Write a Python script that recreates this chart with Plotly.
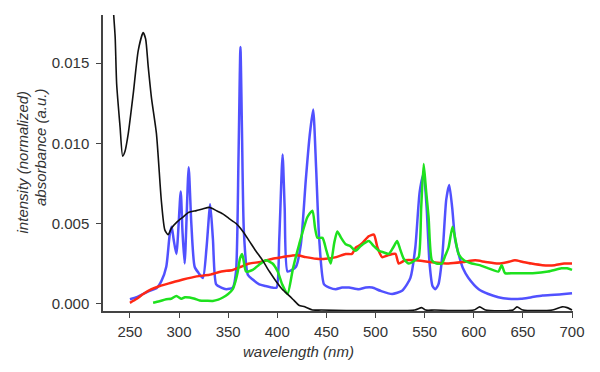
import plotly.graph_objects as go

# Absorbance (black)
abs_nm = [231, 233.5, 235, 236.5, 240, 242.6, 245, 248.3, 253.4, 258.5, 263.5, 266, 268.6, 272, 277, 282,
          285.5, 288.9, 292.2, 298, 304, 310, 317.6, 324, 331, 338, 344.5, 351, 358, 365, 371.6, 378, 385,
          392, 398.7, 405, 412, 417, 422, 428, 435.8, 445, 470, 500, 540, 547, 551, 560, 600, 606, 612,
          640, 644, 650, 680, 690, 695, 700]
abs_val = [0.021, 0.018, 0.0166, 0.0137, 0.0110, 0.0092, 0.0095, 0.0106, 0.0131, 0.0158, 0.0169, 0.0165,
           0.0148, 0.0128, 0.0106, 0.0064, 0.0046, 0.0043, 0.0047, 0.0051, 0.0054, 0.0057, 0.0058, 0.0059,
           0.0060, 0.0058, 0.0056, 0.0053, 0.0050, 0.0045, 0.0039, 0.0033, 0.0027, 0.0020, 0.0014, 0.0009,
           0.0005, 0.0002, -0.0001, -0.0002, -0.0004, -0.0004, -0.00043, -0.00043, -0.0004, -0.00025,
           -0.0004, -0.0004, -0.0004, -0.0002, -0.0004, -0.0004, -0.0002, -0.0004, -0.0004, -0.0002,
           -0.00025, -0.0004]

# Blue emission
blue_nm = [250, 257, 263.5, 270, 277, 282, 287, 290.5, 292.5, 294.5, 297.3, 301.7, 303.5, 305.7, 309.8,
           312.5, 315.9, 320, 324.3, 328, 331.7, 334.5, 337.8, 343, 348, 354.7, 358, 360.5, 362.5, 364,
           366, 370, 375, 381.7, 388, 395, 399.3, 402, 405.4, 407.5, 410.4, 415, 419, 424, 429, 433, 436.5,
           439.5, 442.6, 447.6, 453, 459.5, 466, 473, 483, 490, 496.6, 505, 516.9, 527, 532, 535.5, 540.5,
           545, 549, 552, 555, 558, 560.8, 564, 568, 572, 575, 578, 581, 584.5, 589, 594.6, 605, 614.9,
           625, 635, 648, 658.7, 670, 682.4, 692, 700]
blue_val = [0.00027, 0.0004, 0.0006, 0.0008, 0.00096, 0.0014, 0.0023, 0.0043, 0.0048, 0.0040, 0.0031,
            0.0070, 0.0045, 0.0025, 0.0085, 0.0050, 0.0023, 0.0019, 0.0016, 0.0035, 0.0062, 0.0040,
            0.0012, 0.0010, 0.0009, 0.0010, 0.0020, 0.0090, 0.0160, 0.0110, 0.0045, 0.0018, 0.0015,
            0.0012, 0.0011, 0.0010, 0.0010, 0.0040, 0.0093, 0.0060, 0.0020, 0.0021, 0.0023, 0.0037,
            0.0077, 0.0105, 0.0121, 0.0085, 0.0041, 0.0012, 0.0010, 0.0009, 0.0010, 0.0010, 0.0009,
            0.0010, 0.0010, 0.0008, 0.0006, 0.0008, 0.0012, 0.0016, 0.0035, 0.0070, 0.0081, 0.0060,
            0.0025, 0.0011, 0.0009, 0.0012, 0.0030, 0.0065, 0.0074, 0.0060, 0.0040, 0.0031, 0.0022,
            0.0016, 0.0009, 0.0006, 0.0004, 0.0003, 0.0003, 0.0004, 0.0005, 0.00055, 0.0006, 0.00065]

# Red emission
red_nm = [250, 257, 263.5, 272, 280.4, 292, 304, 318, 331, 343, 354.7, 363, 371.6, 383, 395.2, 405, 415.5,
          422, 429, 440, 449.3, 460, 469.6, 476, 480, 483, 487, 493, 498.3, 502, 506.7, 512, 520.3, 523.6,
          530, 540.5, 555, 574.3, 590, 601.4, 612, 625, 635, 641.9, 650, 658.7, 670, 682.4, 692, 700]
red_val = [0.00005, 0.0003, 0.0006, 0.0009, 0.0011, 0.0013, 0.0015, 0.0017, 0.0018, 0.0020, 0.0021,
           0.0023, 0.0025, 0.0026, 0.0028, 0.0029, 0.0030, 0.0030, 0.0029, 0.0028, 0.0028, 0.0029,
           0.0031, 0.0031, 0.0035, 0.0036, 0.0038, 0.0042, 0.0043, 0.0035, 0.0029, 0.0030, 0.0031,
           0.0025, 0.0027, 0.0027, 0.0026, 0.0025, 0.0026, 0.0027, 0.0026, 0.0025, 0.0026, 0.0027,
           0.0026, 0.0025, 0.0024, 0.0024, 0.0025, 0.0025]

# Green emission
green_nm = [273.6, 280, 287, 292, 297.3, 302.4, 306, 310.8, 316, 321, 328, 334.4, 340, 344.6, 350, 354.7,
            357.5, 359.8, 362, 364.2, 366, 368.2, 375, 381, 388.5, 395.2, 400.4, 405, 410.4, 416, 422.3,
            430.7, 435.8, 438.5, 440.9, 446, 450, 454.4, 458, 461.1, 465, 469.6, 474, 479.7, 485, 493.2,
            498, 503.4, 508, 513.5, 518, 522, 525, 528.7, 533.8, 540, 543.9, 546.5, 549, 551.5, 554,
            557.4, 562, 567.5, 571, 574.3, 578.4, 581, 584.5, 590, 598, 606, 614.9, 625, 628.4, 631.8,
            640, 648.6, 660, 675.7, 689.2, 695, 700]
green_val = [0.00006, 0.00015, 0.00027, 0.0003, 0.00048, 0.0003, 0.0004, 0.00038, 0.0003, 0.0002, 0.00018,
             0.00017, 0.00025, 0.00038, 0.0006, 0.0009, 0.0014, 0.0020, 0.0028, 0.0031, 0.0026, 0.0020,
             0.0021, 0.0024, 0.0027, 0.0025, 0.0020, 0.0012, 0.0006, 0.0022, 0.0037, 0.0054, 0.0058,
             0.0047, 0.0041, 0.0041, 0.0033, 0.0025, 0.0038, 0.0045, 0.0041, 0.0037, 0.0036, 0.0033,
             0.0036, 0.0039, 0.0036, 0.0033, 0.0032, 0.0031, 0.0035, 0.0039, 0.0034, 0.0028, 0.0025,
             0.0027, 0.0029, 0.0060, 0.0087, 0.0070, 0.0054, 0.0027, 0.0025, 0.0025, 0.0030, 0.0035,
             0.0048, 0.0041, 0.0031, 0.0027, 0.0025, 0.0024, 0.0022, 0.0020, 0.0024, 0.0019, 0.0019,
             0.0019, 0.0019, 0.0020, 0.0022, 0.0022, 0.0021]

x_ticks = [250, 300, 350, 400, 450, 500, 550, 600, 650, 700]
y_ticks = [0.0, 0.005, 0.010, 0.015]

FONT = "Liberation Sans, Arial, sans-serif"
TXT = "#333333"

fig = go.Figure()
fig.add_trace(go.Scatter(x=blue_nm, y=blue_val, mode="lines",
                         line=dict(color="rgba(50,50,255,0.85)", width=2.5, shape="spline", smoothing=0.6)))
fig.add_trace(go.Scatter(x=red_nm, y=red_val, mode="lines",
                         line=dict(color="rgb(255,40,20)", width=2.5, shape="spline", smoothing=0.6)))
fig.add_trace(go.Scatter(x=green_nm, y=green_val, mode="lines",
                         line=dict(color="rgb(30,225,30)", width=2.5, shape="spline", smoothing=0.6)))
fig.add_trace(go.Scatter(x=abs_nm, y=abs_val, mode="lines",
                         line=dict(color="#111111", width=1.6, shape="spline", smoothing=0.6)))

# page body has an 8px margin: figure is drawn 8px right/down
fig.update_layout(
    width=584, height=356,
    margin=dict(l=95, r=17, t=7, b=53),
    plot_bgcolor="white", paper_bgcolor="white",
    showlegend=False,
    font=dict(family=FONT, size=15, color=TXT),
    xaxis=dict(range=[222.6, 701], tickvals=x_ticks, ticks="outside", ticklen=5, tickwidth=1,
               tickcolor="#444", showline=True, linecolor="#444", linewidth=1.5,
               showgrid=False, zeroline=False, tickfont=dict(size=15, color=TXT),
               ticklabelstandoff=1),
    yaxis=dict(range=[-0.00046, 0.018], tickvals=y_ticks, tickformat=".3f", ticks="outside",
               ticklen=5, tickwidth=1, tickcolor="#444", showline=True, linecolor="#444",
               linewidth=1.5, showgrid=False, zeroline=False, tickfont=dict(size=15, color=TXT),
               ticklabelstandoff=4),
    annotations=[
        dict(text="<i>wavelength (nm)</i>", xref="paper", yref="paper", x=0.415, y=-0.1385,
             xanchor="center", yanchor="middle", showarrow=False, font=dict(size=15, color=TXT)),
        dict(text="<i>intensity (normalized)</i>", xref="paper", yref="paper", x=-0.1716, y=0.503,
             xanchor="center", yanchor="middle", textangle=-90, showarrow=False,
             font=dict(size=15, color=TXT)),
        dict(text="<i>absorbance (a.u.)</i>", xref="paper", yref="paper", x=-0.134, y=0.554,
             xanchor="center", yanchor="middle", textangle=-90, showarrow=False,
             font=dict(size=15, color=TXT)),
    ],
)

fig.write_html("out.html")
